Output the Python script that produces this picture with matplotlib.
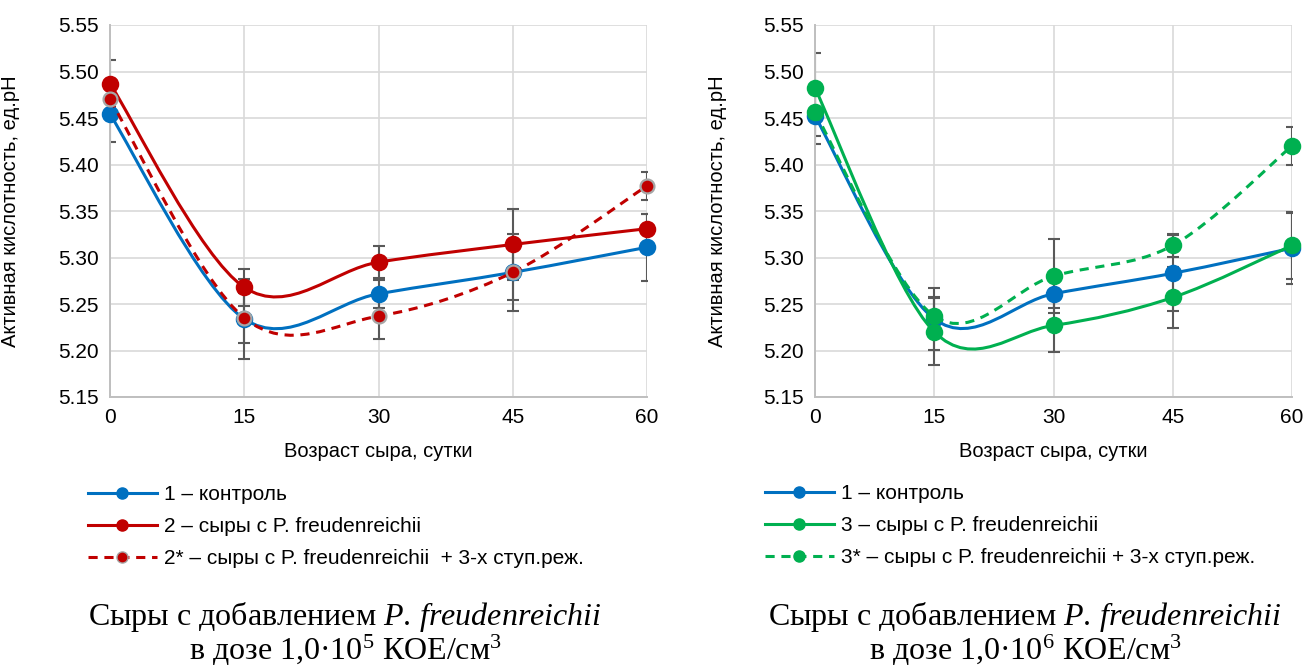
import numpy as np
import matplotlib
matplotlib.use('Agg')
import matplotlib.pyplot as plt
from matplotlib.path import Path
from matplotlib.patches import PathPatch
from matplotlib.lines import Line2D

plt.rcParams['font.family'] = ['Liberation Sans', 'DejaVu Sans']
plt.rcParams['mathtext.fontset'] = 'custom'
plt.rcParams['mathtext.rm'] = 'Liberation Serif'
plt.rcParams['mathtext.it'] = 'Liberation Serif:italic'

# --- data ---
days = [0, 15, 30, 45, 60]

control = [5.454, 5.234, 5.261, 5.284, 5.311]
control_err = [0.030, 0.043, 0.015, 0.041, 0.036]

pf5 = [5.487, 5.268, 5.295, 5.314, 5.331]
pf5_err = [0.025, 0.020, 0.017, 0.038, 0.016]
pf5_star = [5.470, 5.235, 5.237, 5.284, 5.377]
pf5_star_err = [0.020, 0.027, 0.025, 0.030, 0.015]

control_r = [5.452, 5.234, 5.261, 5.283, 5.310]
control_r_err = [0.030, 0.033, 0.015, 0.041, 0.038]
pf6 = [5.482, 5.220, 5.227, 5.257, 5.313]
pf6_err = [0.038, 0.036, 0.029, 0.033, 0.036]
pf6_star = [5.456, 5.237, 5.280, 5.313, 5.420]
pf6_star_err = [0.025, 0.020, 0.040, 0.012, 0.020]

yticks = [5.15, 5.20, 5.25, 5.30, 5.35, 5.40, 5.45, 5.50, 5.55]
xticks = [0, 15, 30, 45, 60]

BLUE = '#0070C0'
RED = '#C00000'
GREEN = '#00B050'
EBAR = '#595959'
LW = 2.2


def smooth_path(x, y):
    # Excel-like smoothed line: cubic Bezier through the points
    pts = np.column_stack([x, y]).astype(float)
    n = len(pts)
    verts = [pts[0]]
    codes = [Path.MOVETO]
    for i in range(n - 1):
        p0 = pts[max(i - 1, 0)]
        p1 = pts[i]
        p2 = pts[i + 1]
        p3 = pts[min(i + 2, n - 1)]
        verts += [p1 + (p2 - p0) / 6, p2 - (p3 - p1) / 6, p2]
        codes += [Path.CURVE4] * 3
    return Path(verts, codes)


def draw_series(ax, y, err, color, dashed=False, mec=None, ms=11, z=3):
    ls = (0, (3, 2.2)) if dashed else '-'
    ax.add_patch(PathPatch(smooth_path(days, y), facecolor='none', edgecolor=color,
                           lw=LW, linestyle=ls, zorder=z, capstyle='butt'))
    ax.errorbar(days, y, yerr=err, fmt='none', ecolor=EBAR, elinewidth=1.5,
                capsize=4, capthick=1.5, zorder=2)
    ax.plot(days, y, 'o', ms=ms, color=color, mec=mec if mec else color,
            mew=1.6, zorder=z + 0.5, clip_on=False)


def style_axes(ax):
    ax.set_xlim(0, 60)
    ax.set_ylim(5.15, 5.55)
    ax.set_xticks(xticks)
    ax.set_yticks(yticks)
    ax.set_yticklabels(['%.2f' % v for v in yticks])
    ax.grid(True, color='#D9D9D9', lw=1.2)
    ax.set_axisbelow(True)
    for s in ['top', 'right']:
        ax.spines[s].set_visible(False)
    for s in ['left', 'bottom']:
        ax.spines[s].set_color('#BFBFBF')
        ax.spines[s].set_linewidth(1.4)
    ax.tick_params(length=0, labelsize=15, pad=8)
    ax.set_xlabel('Возраст сыра, сутки', fontsize=14.5)
    ax.set_ylabel('Активная кислотность, ед.pH', fontsize=14.5)


fig = plt.figure(figsize=(13.08, 6.66), dpi=100)

leg_kw = dict(loc='upper left', bbox_transform=fig.transFigure, frameon=False,
              fontsize=15, handlelength=3.3, handletextpad=0.35, labelspacing=0.62,
              borderpad=0, borderaxespad=0)

# left panel
ax1 = fig.add_axes([110 / 1308, 1 - 397 / 666, 537 / 1308, 372 / 666])
style_axes(ax1)
ax1.xaxis.set_label_coords(0.5, -0.12)
ax1.yaxis.set_label_coords(-0.168, 0.5)
draw_series(ax1, control, control_err, BLUE, z=3)
draw_series(ax1, pf5, pf5_err, RED, z=4)
draw_series(ax1, pf5_star, pf5_star_err, RED, dashed=True, mec='#A6A6A6', ms=10, z=5)

h1 = [Line2D([], [], color=BLUE, lw=LW, marker='o', ms=8),
      Line2D([], [], color=RED, lw=LW, marker='o', ms=8),
      Line2D([], [], color=RED, lw=LW, ls=(0, (3, 2.2)), marker='o', ms=8, mec='#A6A6A6')]
ax1.legend(h1, ['1 – контроль', '2 – сыры с P. freudenreichii',
                '2* – сыры с P. freudenreichii  + 3-х ступ.реж.'],
           bbox_to_anchor=(88 / 1308, 1 - 485 / 666), **leg_kw)

# right panel
ax2 = fig.add_axes([815 / 1308, 1 - 397 / 666, 477 / 1308, 372 / 666])
style_axes(ax2)
ax2.xaxis.set_label_coords(0.5, -0.12)
ax2.yaxis.set_label_coords(-0.185, 0.5)
draw_series(ax2, control_r, control_r_err, BLUE, z=3)
draw_series(ax2, pf6, pf6_err, GREEN, z=4)
draw_series(ax2, pf6_star, pf6_star_err, GREEN, dashed=True, z=5)

h2 = [Line2D([], [], color=BLUE, lw=LW, marker='o', ms=8),
      Line2D([], [], color=GREEN, lw=LW, marker='o', ms=8),
      Line2D([], [], color=GREEN, lw=LW, ls=(0, (3, 2.2)), marker='o', ms=8)]
ax2.legend(h2, ['1 – контроль', '3 – сыры с P. freudenreichii',
                '3* – сыры с P. freudenreichii + 3-х ступ.реж.'],
           bbox_to_anchor=(765 / 1308, 1 - 484 / 666), **leg_kw)

# captions
for cx, power in [(345, '5'), (1025, '6')]:
    fig.text(cx / 1308, 1 - 617 / 666,
             r'Сыры с добавлением $\mathit{P.\,freudenreichii}$',
             ha='center', va='center', fontsize=23, family='Liberation Serif')
    fig.text(cx / 1308, 1 - 650 / 666,
             r'в дозе 1,0·10$^{%s}$ КОЕ/см$^{3}$' % power,
             ha='center', va='center', fontsize=23, family='Liberation Serif')

fig.savefig('out.png', dpi=100)
